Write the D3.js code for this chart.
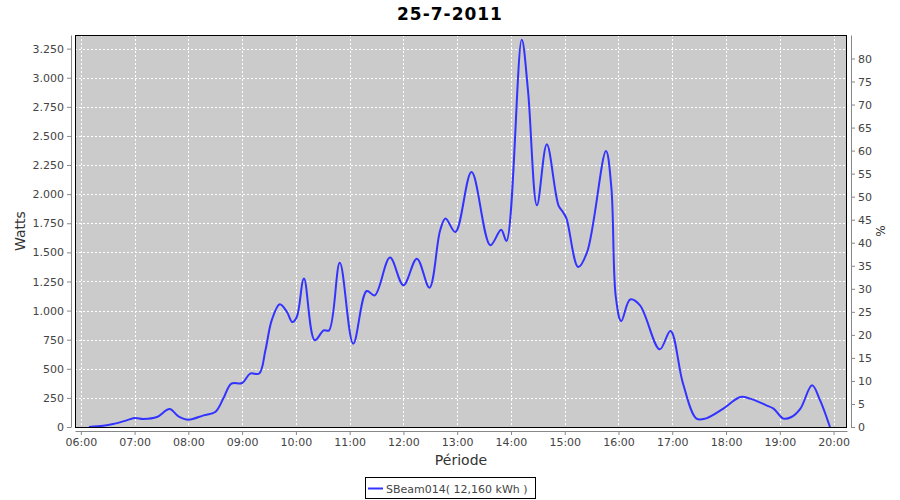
<!DOCTYPE html>
<html><head><meta charset="utf-8">
<script src="https://cdn.jsdelivr.net/npm/d3@7/dist/d3.min.js"></script>
<style>body{margin:0;background:#fff;} text{font-family:"DejaVu Sans",sans-serif;}</style>
</head><body>
<svg id="c" width="900" height="500"></svg>
<script>
// ---- data ----
const title = "25-7-2011";
const seriesName = "SBeam014( 12,160 kWh )";
const times = ["06:09","06:25","06:36","06:51","07:00","07:10","07:25","07:39","07:49","08:00",
  "08:17","08:30","08:39","08:48","09:00","09:09","09:19","09:26","09:33","09:42",
  "09:50","09:56","10:01","10:09","10:21","10:31","10:37","10:49","11:04","11:19",
  "11:28","11:45","12:00","12:15","12:29","12:41","12:47","12:58","13:16","13:37",
  "13:49","13:55","14:12","14:19","14:29","14:40","14:53","14:58","15:02","15:15",
  "15:25","15:46","15:52","15:57","16:03","16:13","16:24","16:46","16:58","17:12",
  "17:27","17:37","17:57","18:16","18:27","18:45","18:53","19:04","19:13","19:23",
  "19:36","19:45","19:56"];
const watts = [0,10,25,57,77,69,86,155,92,63,
  100,129,244,373,378,459,459,659,916,1054,
  988,902,945,1275,745,830,830,1410,716,1168,
  1131,1455,1217,1446,1197,1690,1790,1675,2190,1561,
  1695,1598,3327,2892,1904,2428,1904,1846,1790,1374,
  1503,2371,2061,1117,910,1095,1045,667,825,373,
  72,72,158,258,244,186,158,72,86,158,
  358,229,0];
const wattTicks = d3.range(0, 3251, 250);
const pctTicks = d3.range(0, 81, 5);
const hourTicks = ["06:00","07:00","08:00","09:00","10:00","11:00","12:00","13:00","14:00","15:00","16:00","17:00","18:00","19:00","20:00"];

// ---- layout ----
const svg = d3.select("#c");
const L = 75, R = 847, T = 35, B = 427;
const parse = d3.timeParse("%Y-%m-%d %H:%M");
const day = "2011-07-25 ";
const toDate = s => parse(day + s);

const x = d3.scaleTime()
  .domain([new Date(toDate("06:00").getTime() - 6.5*60000), new Date(toDate("20:00").getTime() + 15*60000)])
  .range([L, R]);
const y = d3.scaleLinear().domain([0, 3367]).range([B, T]);
const y2 = d3.scaleLinear().domain([0, 85.1]).range([B, T]);

const loc = d3.formatLocale({decimal: ",", thousands: ".", grouping: [3], currency: ["", ""]});
const fmt = loc.format(",d");

// title
svg.append("text").attr("x", 450).attr("y", 20).attr("text-anchor", "middle")
  .attr("font-size", 17).attr("font-weight", "bold").attr("letter-spacing", 1)
  .attr("fill", "#000").text(title);

// plot background
svg.append("rect").attr("x", L).attr("y", T).attr("width", R - L).attr("height", B - T)
  .attr("fill", "#cbcbcb");

// gridlines
const g = svg.append("g");
g.selectAll(".hg").data(wattTicks).join("line")
  .attr("x1", L).attr("x2", R).attr("y1", d => Math.round(y(d)) + 0.5).attr("y2", d => Math.round(y(d)) + 0.5)
  .attr("stroke", "#fff").attr("stroke-dasharray", "2,2").attr("stroke-width", 1);
g.selectAll(".vg").data(hourTicks).join("line")
  .attr("y1", T).attr("y2", B).attr("x1", d => Math.round(x(toDate(d))) + 0.5).attr("x2", d => Math.round(x(toDate(d))) + 0.5)
  .attr("stroke", "#fff").attr("stroke-dasharray", "2,2").attr("stroke-width", 1);

// line
const pts = times.map((t, i) => [toDate(t), watts[i]]);
const line = d3.line().x(d => x(d[0])).y(d => y(d[1])).curve(d3.curveCatmullRom.alpha(0.5));
svg.append("defs").append("clipPath").attr("id", "clip")
  .append("rect").attr("x", L).attr("y", T).attr("width", R - L).attr("height", B - T);
svg.append("path").datum(pts).attr("d", line).attr("fill", "none")
  .attr("stroke", "#3333ff").attr("stroke-width", 2).attr("clip-path", "url(#clip)");

// plot border
svg.append("rect").attr("x", L + 0.5).attr("y", T + 0.5).attr("width", R - L - 1).attr("height", B - T)
  .attr("fill", "none").attr("stroke", "#000").attr("stroke-width", 1);

// axes
const axisColor = "#888";
const labColor = "#444";
function styleAxis(sel) {
  sel.selectAll(".domain").attr("stroke", axisColor);
  sel.selectAll(".tick line").attr("stroke", axisColor);
  sel.selectAll(".tick text").attr("fill", labColor).attr("font-size", 11).attr("font-family", "DejaVu Sans");
}
const xAxis = svg.append("g").attr("transform", `translate(0,${B + 4})`)
  .call(d3.axisBottom(x).tickValues(hourTicks.map(toDate)).tickFormat(d3.timeFormat("%H:%M")).tickSizeInner(4).tickSizeOuter(0).tickPadding(3));
styleAxis(xAxis);
const yAxis = svg.append("g").attr("transform", `translate(${L - 4},0)`)
  .call(d3.axisLeft(y).tickValues(wattTicks).tickFormat(fmt).tickSizeInner(4).tickSizeOuter(0).tickPadding(3));
styleAxis(yAxis);
const y2Axis = svg.append("g").attr("transform", `translate(${R + 4},0)`)
  .call(d3.axisRight(y2).tickValues(pctTicks).tickFormat(d3.format("d")).tickSizeInner(4).tickSizeOuter(0).tickPadding(3));
styleAxis(y2Axis);

// axis titles
svg.append("text").attr("transform", `translate(25,${(T + B) / 2}) rotate(-90)`)
  .attr("text-anchor", "middle").attr("font-size", 14).attr("fill", "#333").text("Watts");
svg.append("text").attr("transform", `translate(885,${(T + B) / 2}) rotate(-90)`)
  .attr("text-anchor", "middle").attr("font-size", 12).attr("fill", "#333").text("%");
svg.append("text").attr("x", (L + R) / 2).attr("y", 465).attr("text-anchor", "middle")
  .attr("font-size", 14).attr("fill", "#333").text("Période");

// legend
const lg = svg.append("g");
lg.append("rect").attr("x", 365.5).attr("y", 477.5).attr("width", 170).attr("height", 21)
  .attr("fill", "#fff").attr("stroke", "#000");
lg.append("line").attr("x1", 368).attr("x2", 383).attr("y1", 488.5).attr("y2", 488.5)
  .attr("stroke", "#3333ff").attr("stroke-width", 2);
lg.append("text").attr("x", 386).attr("y", 492.5).attr("font-size", 11).attr("fill", "#444").text(seriesName);
</script>
</body></html>
